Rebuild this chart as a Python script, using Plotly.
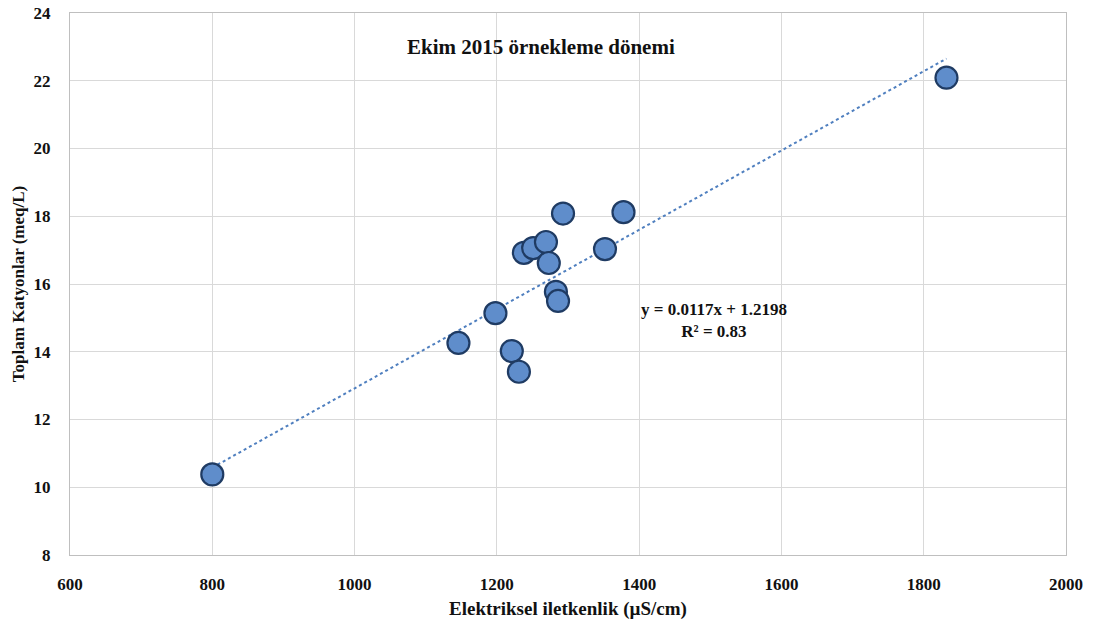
import plotly.graph_objects as go

# Electrical conductivity (µS/cm) and total cations (meq/L), October 2015 sampling
ec = [800, 1146, 1198, 1221, 1231, 1238, 1251, 1269, 1273, 1283, 1286, 1293, 1352, 1378, 1832]
cations = [10.38, 14.26, 15.14, 14.02, 13.41, 16.92, 17.06, 17.24, 16.62, 15.77, 15.50, 18.08, 17.03, 18.12, 22.09]

# Linear trend reported on the chart
slope = 0.0117
intercept = 1.2198
r2 = 0.83

x_ticks = [600, 800, 1000, 1200, 1400, 1600, 1800, 2000]
y_ticks = [8, 10, 12, 14, 16, 18, 20, 22, 24]

fit_x = [min(ec), max(ec)]
fit_y = [slope * v + intercept for v in fit_x]

serif = "Liberation Serif, Times New Roman, serif"
ink = "#111111"

fig = go.Figure()
fig.add_trace(go.Scatter(
    x=fit_x, y=fit_y, mode="lines",
    line=dict(color="#4F7FBF", width=2, dash="dot"),
    hoverinfo="skip", showlegend=False,
))
fig.add_trace(go.Scatter(
    x=ec, y=cations, mode="markers",
    marker=dict(size=22, color="#5F8DCB", line=dict(color="#1F3B63", width=2.2)),
    showlegend=False,
))

fig.add_annotation(
    x=0.473, y=0.937, xref="paper", yref="paper",
    xanchor="center", yanchor="middle",
    text="Ekim 2015 örnekleme dönemi", showarrow=False,
    font=dict(family=serif, size=21, color=ink, weight="bold"),
)
fig.add_annotation(
    x=1505, y=14.93, xref="x", yref="y",
    xanchor="center", yanchor="middle",
    text=f"y = {slope}x + {intercept}<br>R² = {r2}",
    showarrow=False, align="center",
    font=dict(family=serif, size=17, color=ink, weight="bold"),
)

axis_common = dict(
    showgrid=True, gridcolor="#D9D9D9", gridwidth=1,
    showline=True, linecolor="#BFBFBF", linewidth=1, mirror=True,
    zeroline=False, ticks="", automargin=False,
    tickfont=dict(family=serif, size=17, color=ink, weight="bold"),
)

fig.update_xaxes(
    range=[600, 2000], tickvals=x_ticks, ticklabelstandoff=14,
    title=dict(text="Elektriksel iletkenlik (µS/cm)",
               font=dict(family=serif, size=19, color=ink, weight="bold"), standoff=8),
    **axis_common,
)
fig.update_yaxes(
    range=[8, 24], tickvals=y_ticks, ticklabelstandoff=15,
    title=dict(text="Toplam Katyonlar (meq/L)",
               font=dict(family=serif, size=17, color=ink, weight="bold"), standoff=4),
    **axis_common,
)

fig.update_layout(
    width=1106, height=624,
    margin=dict(l=70, r=40, t=13, b=69),
    paper_bgcolor="white", plot_bgcolor="white",
)

fig.write_html("out.html")
